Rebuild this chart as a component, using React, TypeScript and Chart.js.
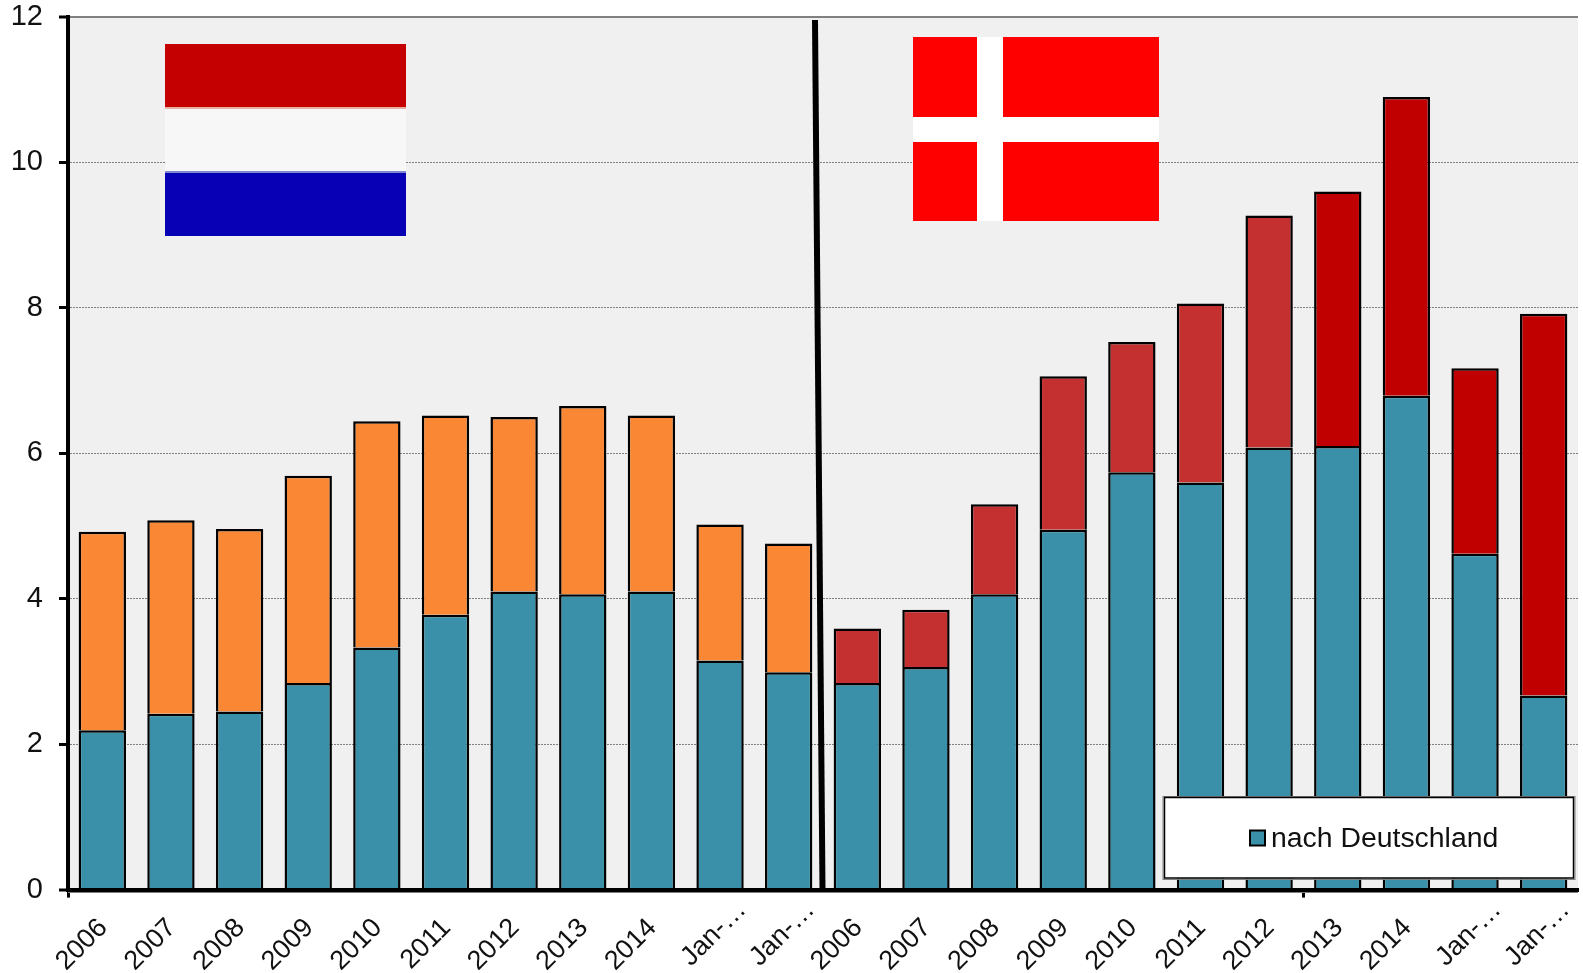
import React, { useEffect, useRef } from "react";
import { Chart, registerables } from "chart.js";

Chart.register(...registerables);

const categories = [
  "2006", "2007", "2008", "2009", "2010", "2011", "2012", "2013", "2014", "Jan-…", "Jan-…",
  "2006", "2007", "2008", "2009", "2010", "2011", "2012", "2013", "2014", "Jan-…", "Jan-…",
];
const toGermany = [
  2.19, 2.42, 2.45, 2.84, 3.33, 3.78, 4.10, 4.06, 4.10, 3.15, 2.99,
  2.84, 3.06, 4.06, 4.95, 5.74, 5.60, 6.08, 6.10, 6.79, 4.62, 2.67,
];
const toOthers = [
  2.73, 2.66, 2.51, 2.85, 3.11, 2.74, 2.40, 2.59, 2.42, 1.87, 1.77,
  0.75, 0.79, 1.24, 2.11, 1.79, 2.46, 3.19, 3.50, 4.11, 2.55, 5.25,
];
const otherColors = [
  "#F98733", "#F98733", "#F98733", "#F98733", "#F98733", "#F98733", "#F98733", "#F98733", "#F98733", "#F98733", "#F98733",
  "#C42F2F", "#C42F2F", "#C42F2F", "#C42F2F", "#C42F2F", "#C42F2F", "#C42F2F", "#C00000", "#C00000", "#C00000", "#C00000",
];
const legendLabel = "nach Deutschland";
const FONT = '"Liberation Sans", Arial, sans-serif';
const TEAL = "#3A90A8";

const decorations = {
  id: "decorations",
  beforeDatasetsDraw(chart: any) {
    const { ctx, chartArea: a } = chart;
    ctx.save();
    ctx.strokeStyle = "#808080";
    ctx.lineWidth = 2;
    ctx.beginPath();
    ctx.moveTo(a.left, a.top);
    ctx.lineTo(a.right, a.top);
    ctx.stroke();
    ctx.beginPath();
    ctx.moveTo(a.left, a.bottom + 2.5);
    ctx.lineTo(a.right, a.bottom + 2.5);
    ctx.stroke();

    // Netherlands flag
    ctx.fillStyle = "#C40000";
    ctx.fillRect(165, 44, 241, 63);
    ctx.fillStyle = "#F7F7F7";
    ctx.fillRect(165, 107, 241, 66);
    ctx.fillStyle = "#E8B0A0";
    ctx.fillRect(165, 107, 241, 2);
    ctx.fillStyle = "#8088D0";
    ctx.fillRect(165, 171, 241, 2);
    ctx.fillStyle = "#0800B4";
    ctx.fillRect(165, 173, 241, 63);

    // Denmark flag
    ctx.fillStyle = "#FF0000";
    ctx.fillRect(913, 37, 246, 184);
    ctx.fillStyle = "#FFFFFF";
    ctx.fillRect(977, 37, 26, 184);
    ctx.fillRect(913, 117, 246, 25);
    ctx.restore();
  },
  afterDatasetsDraw(chart: any) {
    const { ctx, chartArea: a } = chart;
    ctx.save();
    // separator
    ctx.strokeStyle = "#000000";
    ctx.lineWidth = 6;
    ctx.beginPath();
    ctx.moveTo(815, 20);
    ctx.lineTo(822.5, a.bottom);
    ctx.stroke();

    // legend
    ctx.fillStyle = "#FFFFFF";
    ctx.fillRect(1164, 797, 410, 81.5);
    ctx.strokeStyle = "#808080";
    ctx.lineWidth = 1;
    ctx.strokeRect(1163, 796.5, 412, 83);
    ctx.strokeStyle = "#000000";
    ctx.lineWidth = 1.5;
    ctx.strokeRect(1164.5, 797.5, 409, 80.5);
    ctx.fillStyle = TEAL;
    ctx.fillRect(1250, 830.5, 15, 15);
    ctx.strokeStyle = "#000000";
    ctx.lineWidth = 2;
    ctx.strokeRect(1250, 830.5, 15, 15);
    ctx.fillStyle = "#111111";
    ctx.font = `28.4px ${FONT}`;
    ctx.textAlign = "left";
    ctx.textBaseline = "alphabetic";
    ctx.fillText(legendLabel, 1271, 847);
    ctx.restore();
  },
  afterDraw(chart: any) {
    const { ctx, chartArea: a, scales } = chart;
    ctx.save();
    ctx.fillStyle = "#111111";
    ctx.font = `27px ${FONT}`;
    ctx.textAlign = "right";
    ctx.textBaseline = "middle";
    categories.forEach((label, i) => {
      const short = label.startsWith("Jan");
      ctx.save();
      ctx.translate(
        scales.x.getPixelForTick(i) + (short ? 22 : 1),
        a.bottom + (short ? 16 : 34),
      );
      ctx.rotate(-Math.PI / 4);
      ctx.fillText(label, 0, 0);
      ctx.restore();
    });
    ctx.restore();
  },
};

export default function App() {
  const ref = useRef<HTMLCanvasElement>(null);
  useEffect(() => {
    const chart = new Chart(ref.current!, {
      type: "bar",
      data: {
        labels: categories,
        datasets: [
          {
            label: legendLabel,
            data: toGermany,
            backgroundColor: TEAL,
            borderColor: "#000000",
            borderWidth: 2.5,
            categoryPercentage: 1,
            barPercentage: 0.69,
          },
          {
            label: "sonstige",
            data: toOthers,
            backgroundColor: otherColors,
            borderColor: "#000000",
            borderWidth: 2.5,
            categoryPercentage: 1,
            barPercentage: 0.69,
          },
        ],
      },
      options: {
        responsive: false,
        animation: false,
        events: [],
        layout: { padding: { top: 17, right: 5, left: 0, bottom: 0 } },
        plugins: { legend: { display: false }, tooltip: { enabled: false } },
        scales: {
          x: {
            stacked: true,
            afterFit: (s: any) => { s.height = 83.4; s.paddingLeft = 0; s.paddingRight = 0; },
            border: { color: "#000000", width: 4, z: 1 },
            grid: {
              offset: true,
              drawOnChartArea: false,
              drawTicks: true,
              tickLength: 8,
              tickWidth: 3,
              tickColor: (c: any) => (c.index === 0 || c.index === 18 ? "#000000" : "rgba(0,0,0,0)"),
            },
            ticks: { display: false, autoSkip: false },
          },
          y: {
            stacked: true,
            min: 0,
            max: 12,
            afterFit: (s: any) => { s.width = 68; s.paddingTop = 0; s.paddingBottom = 0; },
            border: { color: "#000000", width: 4, z: 1, dash: [2, 1] },
            grid: {
              color: "#808080",
              lineWidth: (c: any) => (c.tick && (c.tick.value === 0 || c.tick.value === 12) ? 0 : 1),
              tickColor: "#000000",
              tickWidth: 3,
              tickLength: 9,
              tickBorderDash: [],
            },
            ticks: {
              stepSize: 2,
              padding: 16,
              color: "#111111",
              font: { family: FONT, size: 29 },
            },
          },
        },
      } as any,
      plugins: [
        decorations,
        {
          id: "plotBackground",
          beforeDraw(c: any) {
            const { ctx, chartArea: a } = c;
            ctx.save();
            ctx.fillStyle = "#F0F0F0";
            ctx.fillRect(a.left, a.top, a.right - a.left, a.bottom - a.top);
            ctx.restore();
          },
        },
      ],
    });
    return () => chart.destroy();
  }, []);
  return (
    <div style={{ position: "absolute", left: 0, top: 0, width: 1583, height: 973 }}>
      <canvas ref={ref} width={1583} height={973} style={{ display: "block" }} />
    </div>
  );
}
